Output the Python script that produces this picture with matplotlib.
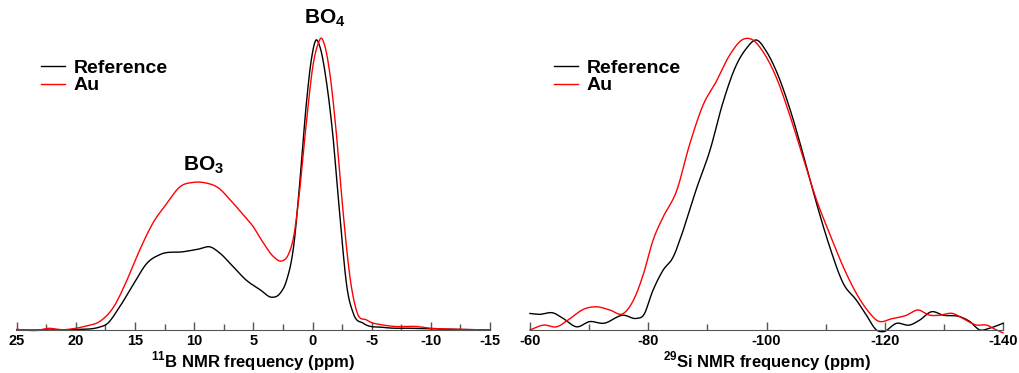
import matplotlib
matplotlib.use("Agg")
import matplotlib.pyplot as plt
import numpy as np

plt.rcParams['font.family'] = ['Liberation Sans', 'DejaVu Sans']
plt.rcParams['font.weight'] = 'bold'
plt.rcParams['axes.unicode_minus'] = False
plt.rcParams['mathtext.fontset'] = 'custom'
plt.rcParams['mathtext.rm'] = 'Liberation Sans:bold'
plt.rcParams['mathtext.bf'] = 'Liberation Sans:bold'

# 11B spectra (ppm, normalised intensity)
b_ref_ppm = [25, 22, 20, 18, 17.4, 16.3, 15.1, 14, 12.9, 10.9, 9.5, 8.7, 7.8, 6.7, 5.6, 4.4, 3.45,
             2.75, 2.2, 1.6, 1.05, 0.5, 0.07, -0.3, -0.6, -1.2, -1.76, -2.3, -2.9, -3.45, -4.3, -6,
             -8.8, -12, -15]
b_ref_int = [0.0, 0.0, 0.002, 0.01, 0.02, 0.08, 0.16, 0.23, 0.26, 0.27, 0.28, 0.287, 0.264, 0.218,
             0.172, 0.138, 0.113, 0.126, 0.17, 0.287, 0.52, 0.79, 0.94, 1.0, 0.98, 0.85, 0.655,
             0.40, 0.15, 0.057, 0.023, 0.009, 0.006, 0.002, 0.0]

b_au_ppm = [25, 23, 22.5, 21, 20, 19.1, 18, 16.8, 15.7, 14.6, 13.5, 12.3, 11.2, 10.1, 8.9, 8.1, 6.7,
            5.6, 5.0, 4.15, 3.3, 2.6, 2.0, 1.6, 1.05, 0.5, -0.07, -0.5, -0.7, -1.06, -1.5, -2.04,
            -2.6, -3.2, -3.7, -4.6, -6, -7, -8.8, -10, -11.6, -15]
b_au_int = [0.002, 0.0, 0.005, 0.001, 0.006, 0.014, 0.029, 0.08, 0.17, 0.276, 0.368, 0.437, 0.494,
            0.509, 0.506, 0.494, 0.437, 0.385, 0.356, 0.30, 0.253, 0.238, 0.264, 0.32, 0.494, 0.724,
            0.92, 0.99, 1.006, 0.977, 0.874, 0.667, 0.40, 0.172, 0.069, 0.034, 0.017, 0.012, 0.012,
            0.006, 0.003, 0.0]

# 29Si spectra
si_ref_ppm = [-60, -61.7, -63.9, -65.6, -67.9, -70.1, -72.4, -75.8, -78, -79.2, -80.8, -82.5, -84.2,
              -85.9, -88.2, -90.4, -92.7, -94.9, -96.6, -98.3, -100, -101.7, -103.9, -106.2,
              -108.5, -110.7, -113, -115.2, -116.9, -118.6, -119.7, -122, -124.2, -125.9, -127.9,
              -129.9, -132.7, -134.4, -136.1, -137.7, -140]
si_ref_int = [0.057, 0.054, 0.059, 0.04, 0.011, 0.029, 0.023, 0.051, 0.04, 0.051, 0.137, 0.206,
              0.251, 0.343, 0.49, 0.617, 0.789, 0.914, 0.971, 1.0, 0.96, 0.891, 0.766, 0.606,
              0.434, 0.286, 0.16, 0.103, 0.051, 0.0, -0.006, 0.023, 0.017, 0.034, 0.063, 0.051,
              0.046, 0.029, 0.0, 0.006, 0.023]

si_au_ppm = [-60, -62.3, -64.5, -66.8, -69, -71.3, -73.5, -75.8, -77.5, -79.2, -80.8, -82.5, -84.8,
             -87, -89.3, -91.5, -93.8, -96.1, -97.7, -99.4, -101.7, -103.9, -106.2, -108.5,
             -110.7, -113, -115.2, -117.5, -118.6, -121.4, -123.7, -125.6, -127.6, -129.3,
             -131.5, -133.2, -135.5, -137.2, -138.9, -140]
si_au_int = [0.0, 0.017, 0.011, 0.04, 0.071, 0.08, 0.069, 0.057, 0.103, 0.194, 0.309, 0.389, 0.48,
             0.64, 0.777, 0.857, 0.949, 1.003, 1.0, 0.96, 0.869, 0.743, 0.594, 0.446, 0.331,
             0.217, 0.126, 0.057, 0.034, 0.04, 0.051, 0.069, 0.051, 0.051, 0.057, 0.04, 0.017,
             0.017, 0.0, -0.01]


def smooth(x, y, n=12):
    # cubic Hermite (Catmull-Rom tangents) through the read points
    x = np.array(x, dtype=float)
    y = np.array(y, dtype=float)
    order = np.argsort(x)
    x, y = x[order], y[order]
    m = np.gradient(y, x)
    xs, ys = [], []
    for i in range(len(x) - 1):
        h = x[i + 1] - x[i]
        t = np.linspace(0, 1, n, endpoint=False)
        h00 = 2 * t**3 - 3 * t**2 + 1
        h10 = t**3 - 2 * t**2 + t
        h01 = -2 * t**3 + 3 * t**2
        h11 = t**3 - t**2
        xs.extend(x[i] + t * h)
        ys.extend(h00 * y[i] + h10 * h * m[i] + h01 * y[i + 1] + h11 * h * m[i + 1])
    xs.append(x[-1])
    ys.append(y[-1])
    return np.array(xs), np.array(ys)


fig = plt.figure(figsize=(10.2, 3.73), dpi=100)
ax1 = fig.add_axes([16.7 / 1020, 43 / 373, 473.3 / 1020, 330 / 373])
ax2 = fig.add_axes([530 / 1020, 43 / 373, 473 / 1020, 330 / 373])


def style(ax, xlim, major, minor, label):
    ax.set_xlim(*xlim)
    ax.set_ylim(0, 1.138)
    for s in ['top', 'right', 'left']:
        ax.spines[s].set_visible(False)
    ax.spines['bottom'].set_color('#555555')
    ax.set_yticks([])
    ax.set_xticks(major)
    ax.set_xticks(minor, minor=True)
    ax.tick_params(axis='x', which='major', direction='in', length=6, width=1, color='#555555',
                   labelsize=10.5, pad=3)
    ax.tick_params(axis='x', which='minor', direction='in', length=4, width=1, color='#555555')
    for t in ax.get_xticklabels():
        t.set_fontweight('bold')
    ax.set_xlabel(label, fontsize=12, fontweight='bold', labelpad=1)
    ax.patch.set_alpha(0)


x, y = smooth(b_ref_ppm, b_ref_int)
ax1.plot(x, y, color='black', lw=1, label='Reference', clip_on=False)
x, y = smooth(b_au_ppm, b_au_int)
ax1.plot(x, y, color='red', lw=1, label='Au', clip_on=False)
style(ax1, (25, -15), np.arange(25, -16, -5), np.arange(22.5, -15, -5),
      r'$^{11}$B NMR frequency (ppm)')
ax1.text(-1.0, 1.075, r'BO$_{4}$', fontsize=15, fontweight='bold', ha='center', va='center')
ax1.text(9.2, 0.57, r'BO$_{3}$', fontsize=15, fontweight='bold', ha='center', va='center')

x, y = smooth(si_ref_ppm, si_ref_int)
ax2.plot(x, y, color='black', lw=1, label='Reference', clip_on=False)
x, y = smooth(si_au_ppm, si_au_int)
ax2.plot(x, y, color='red', lw=1, label='Au', clip_on=False)
style(ax2, (-60, -140), np.arange(-60, -141, -20), np.arange(-70, -140, -20),
      r'$^{29}$Si NMR frequency (ppm)')

for ax in (ax1, ax2):
    ax.legend(loc='upper left', bbox_to_anchor=(0.03, 0.85), frameon=False, borderpad=0,
              handlelength=1.25, handletextpad=0.45, labelspacing=0.0,
              prop={'weight': 'bold', 'size': 14})

fig.savefig('out.png', dpi=100)
